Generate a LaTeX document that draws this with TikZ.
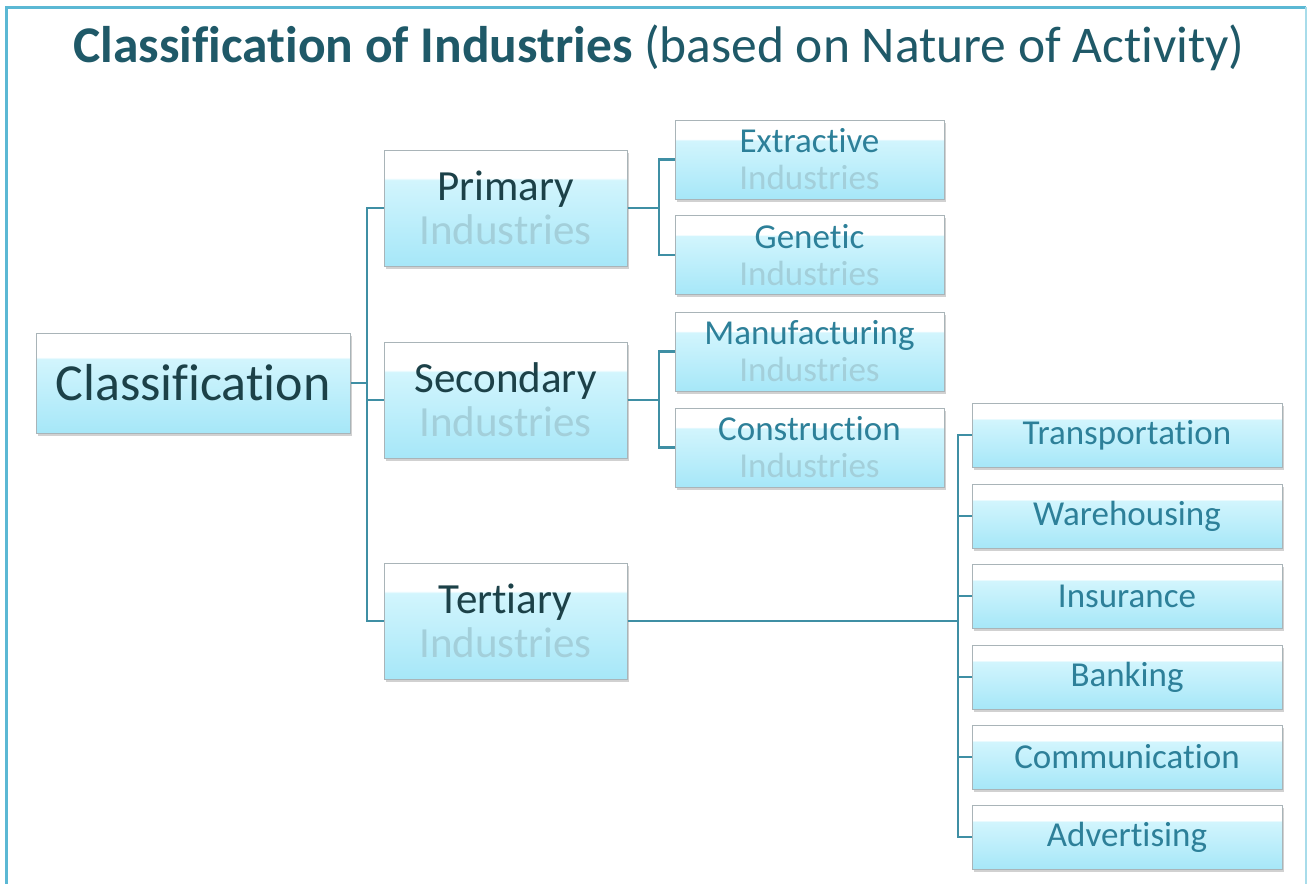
\documentclass[tikz,border=0pt]{standalone}
\usepackage{fontspec}
\setmainfont[RawFeature={-liga;-clig}]{Carlito}
\usetikzlibrary{shadows}
\definecolor{cbot}{HTML}{A6E7F8}
\definecolor{cmid}{HTML}{D2F5FD}
\definecolor{cborder}{HTML}{A9B4B8}
\definecolor{conncol}{HTML}{3F8FA4}
\definecolor{titlecol}{HTML}{1F5968}
\definecolor{darktxt}{HTML}{1C4148}
\definecolor{midtxt}{HTML}{2D8099}
\definecolor{lighttxt}{HTML}{A3CFDA}
\definecolor{framecol}{HTML}{5BB8D4}
\definecolor{frameright}{HTML}{A8DCEA}
\pgfdeclareverticalshading{boxshade}{100bp}{color(0bp)=(cbot); color(25bp)=(cbot); color(62bp)=(cmid); color(63bp)=(white); color(100bp)=(white)}
\tikzset{
  box/.style={rectangle, draw=cborder, line width=1pt, shading=boxshade, inner sep=0pt, align=center,
    drop shadow={shadow xshift=1.5pt, shadow yshift=-2.5pt, fill=black!40, opacity=.45}},
  bigbox/.style={box, minimum width=243pt, minimum height=116pt, font=\fontsize{43}{44}\selectfont, text=darktxt},
  midbox/.style={box, minimum width=269pt, minimum height=79pt, font=\fontsize{35}{37}\selectfont, text=midtxt},
  leafbox/.style={box, minimum width=310pt, minimum height=64pt, font=\fontsize{35}{37}\selectfont, text=midtxt},
  conn/.style={draw=conncol, line width=2.8pt},
}
\newcommand{\ind}{\\\textcolor{lighttxt}{Industries}}
\begin{document}
\begin{tikzpicture}[x=1pt,y=-1pt]
\useasboundingbox (0,0) rectangle (1310,884);
% frame
\draw[framecol, line width=3pt] (6.5,900) -- (6.5,7) -- (1306,7);
\draw[frameright, line width=1.5pt] (1306,7) -- (1306,900);
% title
\node[anchor=base, text=titlecol, inner sep=0pt] (title) at (659,62)
  {\fontsize{51.5}{52}\selectfont\textbf{Classification of Industries} (based on Nature of Activity)};
% nodes
\node[box, minimum width=314pt, minimum height=100pt, font=\fontsize{52}{53}\selectfont, text=darktxt] (cls) at (193,383) {Classification};
\node[bigbox] (pri) at (505.5,208) {Primary\ind};
\node[bigbox] (sec) at (505.5,400) {Secondary\ind};
\node[bigbox] (ter) at (505.5,621) {Tertiary\ind};
\node[midbox] (ext) at (809.5,159.5) {Extractive\ind};
\node[midbox] (gen) at (809.5,255) {Genetic\ind};
\node[midbox] (man) at (809.5,351.5) {Manufacturing\ind};
\node[midbox] (con) at (809.5,447.5) {Construction\ind};
\node[leafbox] (tra) at (1127,435) {Transportation};
\node[leafbox] (war) at (1127,516) {Warehousing};
\node[leafbox] (ins) at (1127,596) {Insurance};
\node[leafbox] (ban) at (1127,677) {Banking};
\node[leafbox] (com) at (1127,757) {Communication};
\node[leafbox] (adv) at (1127,837) {Advertising};
% connector columns
\coordinate (v1) at (367,0);
\coordinate (v2) at (659,0);
\coordinate (v3) at (958,0);
% level 1
\draw[conn] (cls.east) -- (cls.east -| v1);
\draw[conn] (pri.west) -| (v1 |- ter.west) -- (ter.west);
\draw[conn] (sec.west) -- (sec.west -| v1);
% primary
\draw[conn] (pri.east) -- (pri.east -| v2);
\draw[conn] (ext.west) -| (v2 |- gen.west) -- (gen.west);
% secondary
\draw[conn] (sec.east) -- (sec.east -| v2);
\draw[conn] (man.west) -| (v2 |- con.west) -- (con.west);
% tertiary
\draw[conn] (ter.east) -- (ter.east -| v3);
\draw[conn] (tra.west) -| (v3 |- adv.west) -- (adv.west);
\draw[conn] (war.west) -- (war.west -| v3);
\draw[conn] (ins.west) -- (ins.west -| v3);
\draw[conn] (ban.west) -- (ban.west -| v3);
\draw[conn] (com.west) -- (com.west -| v3);
\end{tikzpicture}
\end{document}
